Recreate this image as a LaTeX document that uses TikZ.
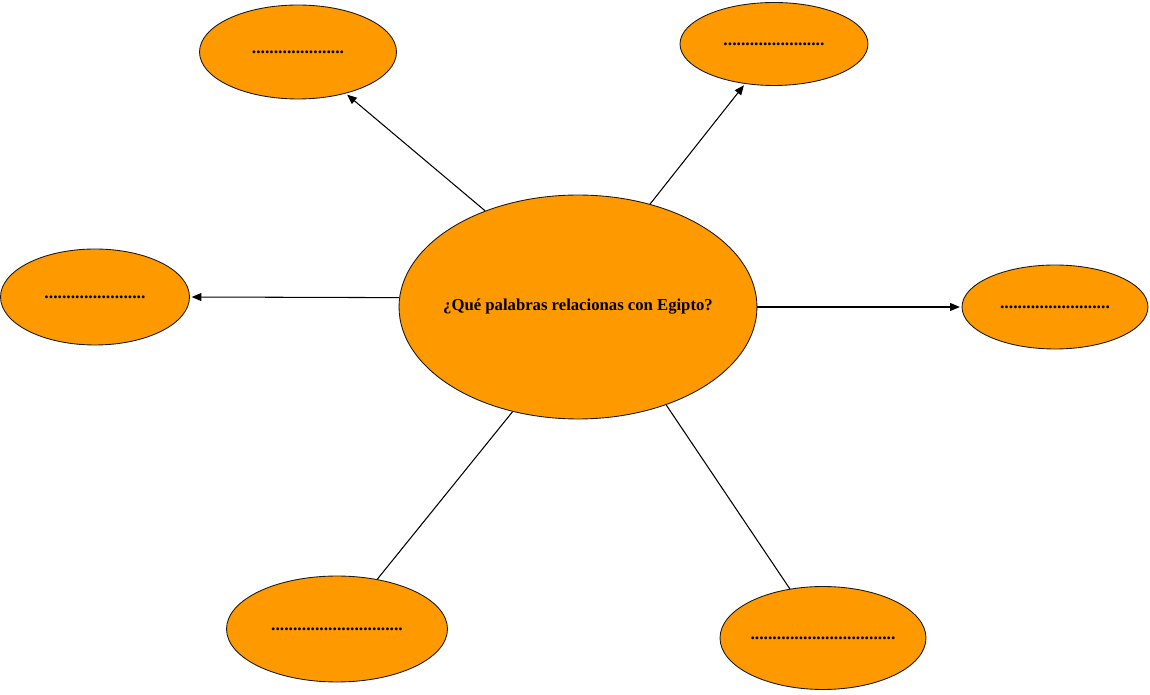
\documentclass[tikz,border=0pt]{standalone}
\usepackage{fontspec}
\setmainfont{Liberation Serif}
\usepackage{xcolor}
\usepackage{tikz}
\usetikzlibrary{arrows.meta,shapes.geometric}
\definecolor{egyorange}{HTML}{FF9900}
\definecolor{egyline}{HTML}{1A1A1A}

\begin{document}
\begin{tikzpicture}[x=0.02cm,y=-0.02cm,
  burbuja/.style={ellipse, draw=egyline, line width=0.5pt, fill=egyorange, inner sep=0pt,
    font=\bfseries\fontsize{10}{12}\selectfont},
  flecha/.style={draw=black, line width=0.6pt, shorten >=1pt, -{Triangle[length=5.5pt,width=4.5pt]}},
  enlace/.style={draw=black, line width=0.6pt}]
  \useasboundingbox (0,0) rectangle (1150,695);

  % Central question
  \node[burbuja, minimum width=7.16cm, minimum height=4.48cm, inner xsep=-0.3cm,
    font=\bfseries\fontsize{9.5}{11}\selectfont] (pregunta) at (578,307) {¿Qué palabras relacionas con Egipto?};

  % Answer bubbles
  \node[burbuja, minimum width=3.94cm, minimum height=1.88cm] (arribaizq) at (298,52) {.....................};
  \node[burbuja, minimum width=3.76cm, minimum height=1.66cm] (arribader) at (774,44) {.......................};
  \node[burbuja, minimum width=3.78cm, minimum height=1.92cm] (izquierda) at (95,297) {.......................};
  \node[burbuja, minimum width=3.72cm, minimum height=1.68cm] (derecha) at (1055,307) {.........................};
  \node[burbuja, minimum width=4.42cm, minimum height=2.12cm] (abajoizq) at (337,629) {..............................};
  \node[burbuja, minimum width=4.12cm, minimum height=2.06cm] (abajoder) at (823,638) {.................................};

  % Arrows
  \draw[flecha] (pregunta.134) -- (arribaizq.-41);
  \draw[flecha] (pregunta.55) -- (arribader.-126);
  \draw[flecha] (pregunta.177) -- (izquierda.east);
  \draw[flecha] (pregunta.-0.6) -- (derecha.west);

  % Plain links
  \draw[enlace] (pregunta.-122) -- (abajoizq.51);
  \draw[enlace] (pregunta.-48) -- (abajoder.124);
\end{tikzpicture}
\end{document}
